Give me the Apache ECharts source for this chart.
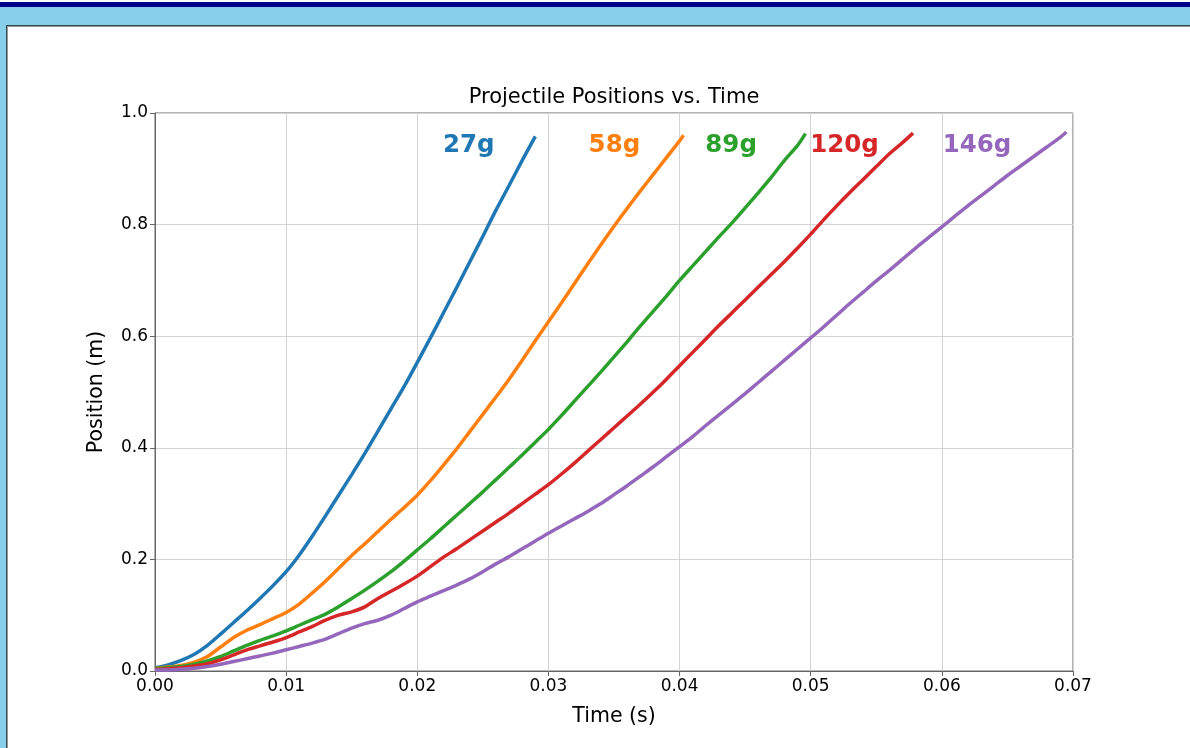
<!DOCTYPE html>
<html>
<head>
<meta charset="utf-8">
<script src="https://cdn.jsdelivr.net/npm/echarts@6/dist/echarts.min.js"></script>
<style>
html,body{margin:0;padding:0;background:#fff;}
#chart{width:1190px;height:748px;}
</style>
</head>
<body>
<div id="chart"></div>
<script>
// ---- data ----
const times = [0,0.001,0.002,0.003,0.004,0.005,0.006,0.007,0.008,0.009,
  0.010,0.011,0.012,0.013,0.014,0.015,0.016,0.017,0.018,0.019,
  0.020,0.021,0.022,0.023,0.024,0.025,0.026,0.027,0.028,0.029,
  0.030,0.031,0.032,0.033,0.034,0.035,0.036,0.037,0.038,0.039,
  0.040,0.041,0.042,0.043,0.044,0.045,0.046,0.047,0.048,0.049,
  0.050,0.051,0.052,0.053,0.054,0.055,0.056,0.057,0.058,0.059,
  0.060,0.061,0.062,0.063,0.064,0.065,0.066,0.067,0.068,0.069];

const names = ['27g','58g','89g','120g','146g'];
const endTimes = [0.029, 0.0403, 0.0496, 0.0578, 0.0695];

const pos27 = [0.006,0.011,0.019,0.03,0.046,0.066,0.087,0.108,0.13,0.153,
  0.178,0.208,0.242,0.278,0.315,0.352,0.39,0.43,0.47,0.51,
  0.553,0.597,0.642,0.687,0.733,0.779,0.826,0.87,0.915,0.958];

const pos58 = [0.005,0.007,0.01,0.016,0.026,0.043,0.06,0.073,0.083,0.094,
  0.105,0.12,0.14,0.161,0.184,0.207,0.228,0.25,0.272,0.293,
  0.315,0.341,0.369,0.398,0.429,0.46,0.491,0.523,0.557,0.592,
  0.626,0.66,0.695,0.73,0.764,0.797,0.829,0.86,0.89,0.92,
  0.95,0.96];

const pos89 = [0.005,0.006,0.008,0.012,0.018,0.026,0.036,0.046,0.055,0.063,
  0.072,0.082,0.092,0.102,0.115,0.13,0.145,0.161,0.178,0.197,
  0.217,0.237,0.258,0.279,0.3,0.321,0.343,0.365,0.387,0.41,
  0.433,0.458,0.484,0.51,0.536,0.563,0.59,0.618,0.645,0.672,
  0.7,0.726,0.752,0.778,0.803,0.83,0.857,0.885,0.915,0.942,
  0.963];

const pos120 = [0.003,0.004,0.006,0.009,0.013,0.02,0.029,0.038,0.045,0.052,
  0.06,0.07,0.08,0.091,0.1,0.106,0.115,0.13,0.143,0.156,
  0.17,0.187,0.204,0.219,0.235,0.251,0.267,0.283,0.3,0.317,
  0.334,0.353,0.373,0.394,0.415,0.436,0.457,0.478,0.5,0.523,
  0.547,0.571,0.595,0.619,0.642,0.665,0.688,0.711,0.734,0.758,
  0.783,0.809,0.834,0.858,0.881,0.904,0.927,0.947,0.964];

const pos146 = [0.002,0.002,0.003,0.005,0.008,0.012,0.017,0.022,0.027,0.032,
  0.038,0.044,0.05,0.057,0.067,0.077,0.085,0.091,0.1,0.112,
  0.124,0.134,0.144,0.154,0.165,0.178,0.192,0.205,0.219,0.233,
  0.247,0.26,0.273,0.286,0.3,0.316,0.332,0.349,0.366,0.384,
  0.402,0.42,0.44,0.459,0.478,0.497,0.517,0.537,0.557,0.577,
  0.597,0.617,0.638,0.659,0.679,0.699,0.718,0.738,0.758,0.777,
  0.796,0.815,0.834,0.852,0.87,0.888,0.905,0.922,0.939,0.956,
  0.966];

const allPositions = [pos27, pos58, pos89, pos120, pos146];

// where each mass label sits (time of its left edge, position)
const labelTimes = [0.0220, 0.0331, 0.0420, 0.0500, 0.0601];
const labelPos = 0.94;

const xTicks = ['0.00','0.01','0.02','0.03','0.04','0.05','0.06','0.07'];
const yTicks = ['0.0','0.2','0.4','0.6','0.8','1.0'];

// ---- chart ----
const colors = ['#1f77b4','#ff7f0e','#2ca02c','#d62728','#9467bd'];
const FONT = 'DejaVu Sans';

function buildPairs(vals, endT){
  const out = [];
  for (let k = 0; k < vals.length - 1; k++) out.push([times[k], vals[k]]);
  out.push([endT, vals[vals.length - 1]]);
  return out;
}

const series = allPositions.map((vals, i) => ({
  name: names[i],
  type: 'line',
  data: buildPairs(vals, endTimes[i]),
  showSymbol: false,
  smooth: 0.25,
  lineStyle: { color: colors[i], width: 3.5 },
  itemStyle: { color: colors[i] },
  z: 3,
  markPoint: {
    silent: true,
    symbol: 'circle',
    symbolSize: 1,
    itemStyle: { color: 'rgba(0,0,0,0)' },
    label: {
      show: true,
      formatter: names[i],
      position: [0, 0],
      align: 'left',
      verticalAlign: 'middle',
      color: colors[i],
      fontFamily: FONT,
      fontWeight: 'bold',
      fontSize: 24.5
    },
    data: [{ coord: [labelTimes[i], labelPos] }]
  }
}));

const chart = echarts.init(document.getElementById('chart'), null, { renderer: 'canvas' });
chart.setOption({
  animation: false,
  backgroundColor: '#ffffff',
  graphic: [
    { type: 'rect', z: -10, shape: { x: 0, y: 2, width: 1190, height: 5 }, style: { fill: '#00008b' }, silent: true },
    { type: 'rect', z: -10, shape: { x: 0, y: 7, width: 1190, height: 18 }, style: { fill: '#87ceeb' }, silent: true },
    { type: 'rect', z: -10, shape: { x: 0, y: 25, width: 6, height: 723 }, style: { fill: '#87ceeb' }, silent: true },
    { type: 'rect', z: -10, shape: { x: 6, y: 25, width: 1184, height: 1 }, style: { fill: '#2f4f4f' }, silent: true },
    { type: 'rect', z: -10, shape: { x: 6, y: 25, width: 1, height: 723 }, style: { fill: '#2f4f4f' }, silent: true },
    { type: 'rect', z: -10, shape: { x: 7, y: 26, width: 1183, height: 1 }, style: { fill: '#999999' }, silent: true },
    { type: 'rect', z: -10, shape: { x: 7, y: 26, width: 1, height: 722 }, style: { fill: '#999999' }, silent: true }
  ],
  title: {
    text: 'Projectile Positions vs. Time',
    left: 614,
    textAlign: 'center',
    top: 87,
    padding: 0,
    textStyle: { fontFamily: FONT, fontWeight: 'normal', fontSize: 21, color: '#000' }
  },
  grid: {
    left: 155, right: 117, top: 113, bottom: 77,
    show: true, borderColor: '#666', borderWidth: 1, backgroundColor: 'transparent'
  },
  xAxis: {
    type: 'value',
    min: 0, max: 0.07, interval: 0.01,
    name: 'Time (s)',
    nameLocation: 'middle',
    nameGap: 35,
    nameTextStyle: { fontFamily: FONT, fontSize: 20.5, color: '#000' },
    axisLine: { show: true, lineStyle: { color: '#666', width: 1 } },
    axisTick: { show: true, inside: false, length: 5, lineStyle: { color: '#666' } },
    axisLabel: {
      margin: 7, fontFamily: FONT, fontSize: 17, color: '#000',
      formatter: v => xTicks[Math.round(v / 0.01)]
    },
    splitLine: { show: true, lineStyle: { color: '#d3d3d3', width: 1 } }
  },
  yAxis: {
    type: 'value',
    min: 0, max: 1, interval: 0.2,
    name: 'Position (m)',
    nameLocation: 'middle',
    nameGap: 48,
    nameRotate: 90,
    nameTextStyle: { fontFamily: FONT, fontSize: 20.5, color: '#000' },
    axisLine: { show: true, lineStyle: { color: '#666', width: 1 } },
    axisTick: { show: true, inside: false, length: 5, lineStyle: { color: '#666' } },
    axisLabel: {
      margin: 7, fontFamily: FONT, fontSize: 17, color: '#000',
      formatter: v => yTicks[Math.round(v / 0.2)]
    },
    splitLine: { show: true, lineStyle: { color: '#d3d3d3', width: 1 } }
  },
  series: series
});
</script>
</body>
</html>
